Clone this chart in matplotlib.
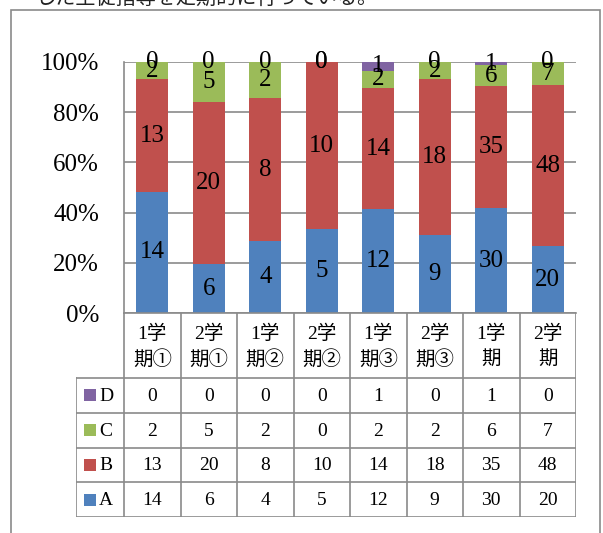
import matplotlib
matplotlib.use("Agg")
import matplotlib.pyplot as plt
from matplotlib.patches import Rectangle
import numpy as np

categories = ["1学\n期①", "2学\n期①", "1学\n期②", "2学\n期②", "1学\n期③", "2学\n期③", "1学\n期", "2学\n期"]
A = [14, 6, 4, 5, 12, 9, 30, 20]
B = [13, 20, 8, 10, 14, 18, 35, 48]
C = [2, 5, 2, 0, 2, 2, 6, 7]
D = [0, 0, 0, 0, 1, 0, 1, 0]
series_names = ["A", "B", "C", "D"]
series_vals = [A, B, C, D]
colors = ["#4F81BD", "#C0504D", "#9BBB59", "#8064A2"]
yticks = [0, 0.2, 0.4, 0.6, 0.8, 1.0]
ytick_labels = ["0%", "20%", "40%", "60%", "80%", "100%"]
title_text = "した生徒指導を定期的に行っている。"

FAM = ["Liberation Serif", "Noto Sans CJK JP", "DejaVu Sans"]
plt.rcParams["font.family"] = FAM
GRAY = "#8a8a8a"

W, H = 603, 533
fig = plt.figure(figsize=(W / 100, H / 100), dpi=100)

def fx(px):
    return px / W

def fy(py):
    return 1 - py / H

# outer border
fig.patches.append(Rectangle((fx(11), -0.1), fx(600) - fx(11), fy(10) + 0.1,
                             transform=fig.transFigure, fill=False, ec=GRAY, lw=1.2))
fig.text(fx(35), fy(5), title_text, fontsize=14.5, family=["Noto Sans CJK JP", "DejaVu Sans"],
         va="baseline", ha="left", color="#222222")

# main bar axes
L, R, T, Bt = 124, 576, 62, 313
ax = fig.add_axes([fx(L), fy(Bt), fx(R) - fx(L), fy(T) - fy(Bt)])
n = len(categories)
x = np.arange(n)
totals = np.sum(np.array(series_vals), axis=0)
bottom = np.zeros(n)
for name, vals, col in zip(series_names, series_vals, colors):
    frac = np.array(vals) / totals
    bars = ax.bar(x, frac, 0.566, bottom=bottom, color=col, label=name, zorder=2)
    ax.bar_label(bars, labels=[str(v) for v in vals], label_type="center",
                 fontsize=18, color="black", zorder=5)
    bottom += frac
ax.set_xlim(-0.5, n - 0.5)
ax.set_ylim(0, 1)
ax.set_yticks(yticks)
ax.set_yticklabels(ytick_labels, fontsize=18)
ax.set_xticks([])
ax.tick_params(axis="y", length=0, pad=18)
ax.yaxis.grid(True, color=GRAY, lw=1.2, zorder=0)
ax.set_axisbelow(True)
for s in ["top", "right"]:
    ax.spines[s].set_visible(False)
for s in ["left", "bottom"]:
    ax.spines[s].set_color(GRAY)
    ax.spines[s].set_linewidth(1.2)

# data table axes
tb = 517
cat_w = (R - L) / n
lab_w = (L - 76) / cat_w
tax = fig.add_axes([fx(76), fy(tb), fx(R) - fx(76), fy(Bt) - fy(tb)])
tax.set_xlim(-0.5 - lab_w, n - 0.5)
tax.set_ylim(tb - Bt, 0)
tax.axis("off")
hdr = 65
row_h = (tb - Bt - hdr) / 4
lk = dict(color=GRAY, lw=1.2, solid_capstyle="projecting")
# vertical lines between categories
for b in np.arange(n + 1) - 0.5:
    tax.plot([b, b], [0, tb - Bt], **lk)
tax.plot([-0.5 - lab_w] * 2, [hdr, tb - Bt], **lk)
for i in range(5):
    yy = hdr + i * row_h
    tax.plot([-0.5 - lab_w, n - 0.5], [yy, yy], **lk)
# header labels
for i, c in enumerate(categories):
    l1, l2 = c.split("\n")
    tax.text(i, 21, l1, ha="center", va="center", fontsize=14)
    tax.text(i, 46, l2, ha="center", va="center", fontsize=14)
# rows: D, C, B, A top to bottom
order = [3, 2, 1, 0]
sq = 12 / cat_w
for r, si in enumerate(order):
    yc = hdr + (r + 0.5) * row_h
    x0 = -0.5 - lab_w + 8 / cat_w
    tax.add_patch(Rectangle((x0, yc - 6), sq, 12, color=colors[si], lw=0))
    tax.text(x0 + sq + 3 / cat_w, yc + 1, series_names[si], ha="left", va="center", fontsize=14)
    for i, v in enumerate(series_vals[si]):
        tax.text(i, yc + 1, str(v), ha="center", va="center", fontsize=14)

fig.savefig("out.png", dpi=100)
